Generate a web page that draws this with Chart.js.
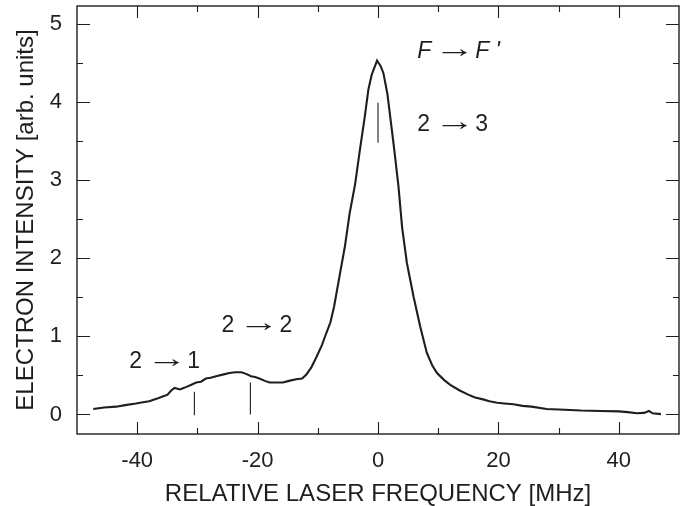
<!DOCTYPE html>
<html><head><meta charset="utf-8">
<script src="https://cdn.jsdelivr.net/npm/chart.js@4/dist/chart.umd.min.js"></script>
<style>html,body{margin:0;padding:0;background:#fff;overflow:hidden}#wrap{width:686px;height:506px}</style>
</head><body><div id="wrap"><canvas id="c" width="686" height="506"></canvas></div>
<script>
const freq = [-47.3,-45.5,-43.5,-42,-40.2,-38.8,-38,-36.8,-35.8,-35,-34.3,-33.8,-33.3,-32.9,-32.3,-31.9,-31,-30.2,-29.4,-28.6,-27.8,-26.9,-25.8,-24.7,-23.7,-22.7,-21.9,-21.1,-20.4,-19.7,-18.8,-18,-16.8,-15.8,-14.8,-13.6,-12.6,-11.9,-11.1,-10.2,-9.3,-8.6,-7.9,-7.3,-6.3,-5.5,-4.7,-3.8,-3.0,-2.2,-1.6,-1.05,-0.5,-0.15,0.1,0.45,0.9,1.55,2.1,2.7,3.4,4.0,4.8,5.9,7.0,8.1,9.0,9.8,11,12,13.5,14.8,16,17.6,18.5,19.8,21,22.5,24,25.5,28,31,33.7,37,40,41.5,43,44.2,45,45.6,47];
const intensity = [0.07,0.09,0.10,0.12,0.14,0.16,0.17,0.20,0.23,0.25,0.31,0.34,0.33,0.32,0.34,0.35,0.38,0.41,0.42,0.46,0.47,0.49,0.51,0.53,0.54,0.54,0.52,0.49,0.48,0.46,0.43,0.41,0.41,0.41,0.43,0.45,0.46,0.51,0.60,0.74,0.89,1.04,1.18,1.38,1.81,2.15,2.58,2.95,3.39,3.81,4.16,4.35,4.46,4.53,4.50,4.46,4.37,4.11,3.77,3.39,2.92,2.40,1.94,1.51,1.13,0.79,0.63,0.53,0.44,0.38,0.31,0.26,0.22,0.19,0.17,0.15,0.14,0.13,0.11,0.10,0.07,0.06,0.05,0.045,0.04,0.03,0.015,0.02,0.045,0.015,0.005];
const xTicks = [-40,-30,-20,-10,0,10,20,30,40];
const xLabels = [-40,-20,0,20,40];
const yTicks = [0,0.5,1,1.5,2,2.5,3,3.5,4,4.5,5];
const yLabels = [0,1,2,3,4,5];
const markerFreq = [-30.5,-21.2,0];
const markerLow = [-0.01,0,3.48];
const markerHigh = [0.29,0.41,3.99];
const annoLeft = ["2","2","F","2"];
const annoRight = ["1","2","F '","3"];
const annoItalic = [false,false,true,false];
const annoFreq = [-41.3,-26,6.5,6.5];
const annoInt = [0.68,1.14,4.65,3.71];

const FONT = "'Liberation Sans', Arial, Helvetica, sans-serif";
const INK = '#1e1e1e';

const datasets = [{
  data: freq.map((x,i)=>({x:x,y:intensity[i]})),
  showLine:true, borderColor:INK, borderWidth:2.1, pointRadius:0, tension:0, fill:false
}];
markerFreq.forEach((f,i)=>{
  datasets.push({data:[{x:f,y:markerLow[i]},{x:f,y:markerHigh[i]}], showLine:true, borderColor:INK, borderWidth:1.1, pointRadius:0, fill:false});
});

const framePlugin = {
  id:'frame',
  afterDraw(chart){
    const {ctx, chartArea:a, scales:{x,y}} = chart;
    ctx.save();
    ctx.strokeStyle = INK;
    ctx.lineWidth = 1.4;
    ctx.strokeRect(a.left, a.top, a.right-a.left, a.bottom-a.top);
    ctx.lineWidth = 1.1;
    ctx.beginPath();
    xTicks.forEach(v=>{
      const px = Math.round(x.getPixelForValue(v))+0.5;
      const L = xLabels.includes(v)?12:6;
      ctx.moveTo(px,a.bottom); ctx.lineTo(px,a.bottom-L);
      ctx.moveTo(px,a.top); ctx.lineTo(px,a.top+L);
    });
    yTicks.forEach(v=>{
      const py = Math.round(y.getPixelForValue(v))+0.5;
      const L = yLabels.includes(v)?13:6;
      ctx.moveTo(a.left,py); ctx.lineTo(a.left+L,py);
      ctx.moveTo(a.right,py); ctx.lineTo(a.right-L,py);
    });
    ctx.stroke();
    // annotations
    ctx.fillStyle = INK;
    ctx.textBaseline = 'middle';
    ctx.textAlign = 'left';
    annoLeft.forEach((t,i)=>{
      const px = x.getPixelForValue(annoFreq[i]);
      const py = y.getPixelForValue(annoInt[i]);
      const f = (annoItalic[i]?'italic ':'') + '23px ' + FONT;
      ctx.font = f;
      ctx.fillText(t, px, py);
      ctx.font = '23px ' + FONT;
      const m = ctx.measureText('\u2192');
      const w = (m.actualBoundingBoxRight + m.actualBoundingBoxLeft) || m.width;
      const sx = 27 / w;
      ctx.save();
      ctx.translate(px+24, py-2);
      ctx.scale(sx,1.15);
      ctx.fillText('\u2192', m.actualBoundingBoxLeft||0, 0);
      ctx.restore();
      ctx.font = f;
      ctx.fillText(annoRight[i], px+58, py);
    });
    ctx.restore();
  }
};

new Chart(document.getElementById('c'), {
  type:'scatter',
  data:{datasets},
  options:{
    responsive:false, animation:false, devicePixelRatio:1,
    layout:{padding:{left:0,right:7,top:6,bottom:0}},
    plugins:{legend:{display:false}, tooltip:{enabled:false}},
    scales:{
      x:{
        type:'linear', position:'bottom', min:-50, max:50,
        afterBuildTicks:s=>{s.ticks = xTicks.map(v=>({value:v}));},
        afterFit:s=>{s.height = 72; s.paddingLeft = 0; s.paddingRight = 0;},
        grid:{display:false, drawTicks:false}, border:{display:false},
        ticks:{autoSkip:false, maxRotation:0, padding:14, color:INK,
          font:{family:FONT,size:22},
          callback:v=> xLabels.includes(v)? String(v) : ''},
        title:{display:true, text:'RELATIVE LASER FREQUENCY [MHz]', color:INK,
          font:{family:FONT,size:24,lineHeight:1}, padding:{top:0,bottom:0}}
      },
      y:{
        type:'linear', position:'left', min:-0.25, max:5.23,
        afterBuildTicks:s=>{s.ticks = yTicks.map(v=>({value:v}));},
        afterFit:s=>{s.width = 77; s.paddingTop = 0; s.paddingBottom = 0;},
        grid:{display:false, drawTicks:false}, border:{display:false},
        ticks:{autoSkip:false, padding:15, color:INK,
          font:{family:FONT,size:22},
          callback:v=> yLabels.includes(v)? String(v) : ''},
        title:{display:true, text:'ELECTRON INTENSITY [arb. units]', color:INK,
          font:{family:FONT,size:24,lineHeight:1.2}, padding:{top:12,bottom:0}}
      }
    }
  },
  plugins:[framePlugin]
});
</script>
</body></html>
